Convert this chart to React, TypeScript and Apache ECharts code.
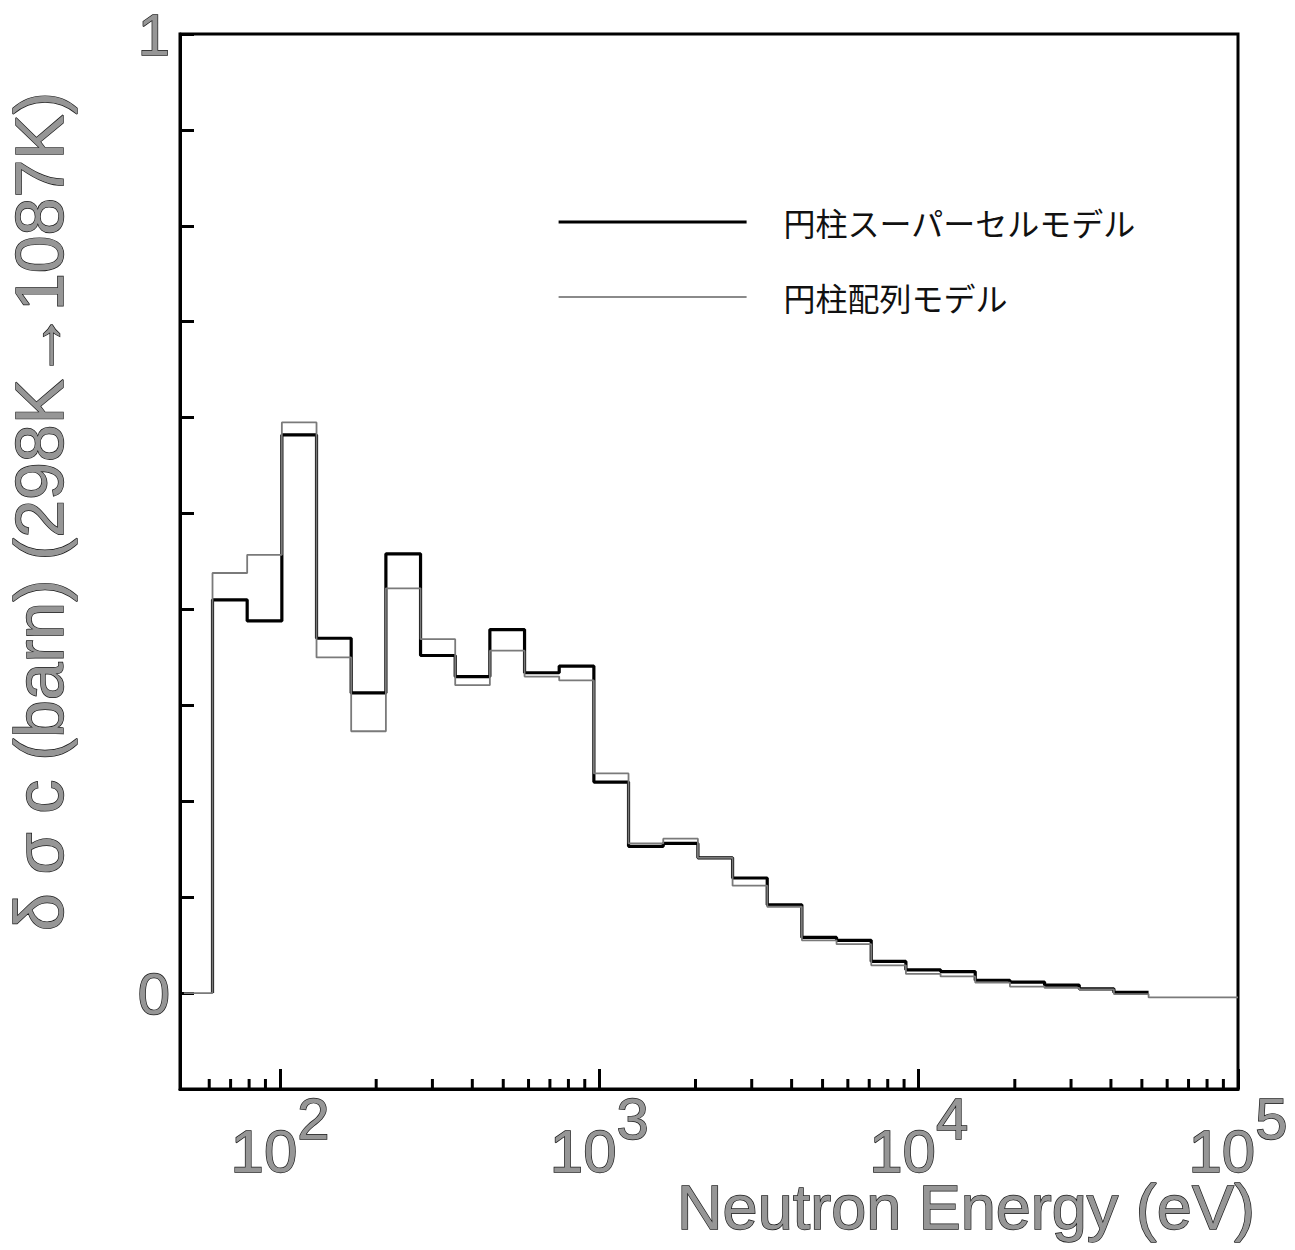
import React, { useEffect, useRef } from "react";
import * as echarts from "echarts";

// Lower energy bounds (eV) of the groups (lethargy width 0.25)
const groupEdges = [
  61.44, 78.89, 101.3, 130.07, 167.0, 214.5, 275.4, 353.6, 454.0, 583.0,
  748.5, 961.1, 1234, 1585, 2035, 2613, 3355, 4307, 5531, 7102, 9119,
  11709, 15034, 19305, 24788, 31828, 40868, 52475,
];
// Super-cell model (thick black) — one value per group between groupEdges[i] and groupEdges[i+1]
const superCellValues = [
  0.41, 0.388, 0.582, 0.37, 0.313, 0.458, 0.352, 0.33, 0.379, 0.334, 0.341,
  0.22, 0.153, 0.156, 0.141, 0.12, 0.092, 0.058, 0.055, 0.033, 0.0243,
  0.0224, 0.0134, 0.0115, 0.0084, 0.0044, 0.0007,
];
// Array model (thin gray) — edges and one value per group
const arrayEdges = [50, ...groupEdges, 67379, 86517];
const arrayValues = [
  0, 0.438, 0.457, 0.595, 0.35, 0.273, 0.422, 0.369, 0.321, 0.357, 0.33,
  0.326, 0.229, 0.156, 0.161, 0.141, 0.112, 0.09, 0.055, 0.051, 0.029,
  0.02, 0.0174, 0.011, 0.0068, 0.0054, 0.0038, -0.001, -0.0045, -0.0045,
  -0.0045,
];
const arrayEnd = 100000;

const seriesNames = ["円柱スーパーセルモデル", "円柱配列モデル"];
const xMin = 48.6;
const xMax = 100000;
const yMin = -0.1;
const yMax = 1;
const minorTickValues = [
  60, 70, 80, 90, 200, 300, 400, 500, 600, 700, 800, 900, 2000, 3000, 4000,
  5000, 6000, 7000, 8000, 9000, 20000, 30000, 40000, 50000, 60000, 70000,
  80000, 90000,
];

const AXIS_FONT = "'Liberation Sans', Arial, Helvetica, sans-serif";
const outlined = {
  color: "#969696",
  textBorderColor: "#1a1a1a",
  textBorderWidth: 1.4,
  fontFamily: AXIS_FONT,
};

function buildSuperCell(): number[][] {
  const pts: number[][] = [[groupEdges[0], 0]];
  superCellValues.forEach((v, i) => pts.push([groupEdges[i], v]));
  pts.push([groupEdges[groupEdges.length - 1], superCellValues[superCellValues.length - 1]]);
  return pts;
}
function buildArray(): number[][] {
  const pts: number[][] = arrayEdges.map((e, i) => [e, arrayValues[i]]);
  pts.push([arrayEnd, arrayValues[arrayValues.length - 1]]);
  return pts;
}

export default function App() {
  const ref = useRef<HTMLDivElement>(null);
  useEffect(() => {
    if (!ref.current) return;
    const chart = echarts.init(ref.current, undefined, { renderer: "svg" });
    chart.setOption({
      animation: false,
      backgroundColor: "#ffffff",
      grid: {
        left: 180,
        top: 34,
        width: 1058,
        height: 1055,
        containLabel: false,
        outerBoundsMode: "none",
        show: true,
        borderColor: "#000",
        borderWidth: 3,
        backgroundColor: "transparent",
      },
      legend: {
        data: [
          {
            name: seriesNames[0],
            itemStyle: { opacity: 0 },
            lineStyle: { color: "#000", width: 3.2 },
          },
          {
            name: seriesNames[1],
            itemStyle: { opacity: 0 },
            lineStyle: { color: "#8a8a8a", width: 2 },
          },
        ],
        orient: "vertical",
        left: 557,
        top: 195,
        padding: 0,
        itemWidth: 188,
        itemHeight: 14,
        itemGap: 21,
        selectedMode: false,
        textStyle: {
          fontSize: 32,
          lineHeight: 36,
          color: "#111",
          fontFamily: "'Noto Sans CJK JP', sans-serif",
          padding: [0, 0, 18, 32],
        },
      },
      xAxis: {
        type: "log",
        logBase: 10,
        min: xMin,
        max: xMax,
        name: "Neutron Energy (eV)",
        nameLocation: "middle",
        nameGap: 98,
        nameMoveOverlap: false,
        nameTextStyle: {
          ...outlined,
          fontSize: 63,
          lineHeight: 40,
          padding: [0, 0, 0, 514],
        },
        axisLine: { show: true, onZero: false, lineStyle: { color: "#000", width: 3 } },
        axisTick: { show: true, inside: true, length: 20, lineStyle: { color: "#000", width: 3 } },
        minorTick: { show: false },
        splitLine: { show: false },
        axisLabel: {
          margin: 0,
          formatter: (v: number) => {
            const l = Math.log10(v);
            const e = Math.round(l);
            if (Math.abs(l - e) > 1e-6) return "";
            return `{b|10}{s|${e}}`;
          },
          rich: {
            b: { ...outlined, fontSize: 60, lineHeight: 92, verticalAlign: "bottom" },
            s: { ...outlined, fontSize: 58, lineHeight: 92, verticalAlign: "top" },
          },
        },
      },
      yAxis: {
        type: "value",
        min: yMin,
        max: yMax,
        interval: 0.1,
        name: "δ σ c (barn) (298K→1087K)",
        nameLocation: "middle",
        nameGap: 107,
        nameMoveOverlap: false,
        nameTextStyle: {
          ...outlined,
          fontSize: 68,
          padding: [0, 0, 0, 100],
        },
        axisLine: { show: true, onZero: false, lineStyle: { color: "#000", width: 3 } },
        axisTick: { show: true, inside: true, length: 14, lineStyle: { color: "#000", width: 3 } },
        splitLine: { show: false },
        axisLabel: {
          ...outlined,
          fontSize: 58,
          margin: 10,
          padding: [10, 0, 0, 0],
          formatter: (v: number) => {
            if (Math.abs(v) < 1e-9) return "0";
            if (Math.abs(v - 1) < 1e-9) return "1";
            return "";
          },
        },
      },
      series: [
        {
          name: seriesNames[0],
          type: "line",
          step: "end",
          showSymbol: false,
          symbol: "none",
          data: buildSuperCell(),
          lineStyle: { color: "#000", width: 3.2 },
          itemStyle: { color: "#000" },
          z: 3,
        },
        {
          name: seriesNames[1],
          type: "line",
          step: "end",
          showSymbol: false,
          symbol: "none",
          data: buildArray(),
          lineStyle: { color: "#7a7a7a", width: 1.8 },
          itemStyle: { color: "#7a7a7a" },
          z: 4,
        },
        {
          type: "custom",
          silent: true,
          z: 5,
          data: minorTickValues.map((v) => [v, yMin]),
          renderItem: (_params: any, api: any) => {
            const p = api.coord([api.value(0), api.value(1)]);
            return {
              type: "line",
              shape: { x1: p[0], y1: p[1], x2: p[0], y2: p[1] - 10 },
              style: { stroke: "#000", lineWidth: 3 },
            };
          },
        },
      ],
    });
    return () => chart.dispose();
  }, []);
  return (
    <div
      ref={ref}
      style={{ position: "absolute", left: 0, top: 0, width: 1295, height: 1250, background: "#fff" }}
    />
  );
}
